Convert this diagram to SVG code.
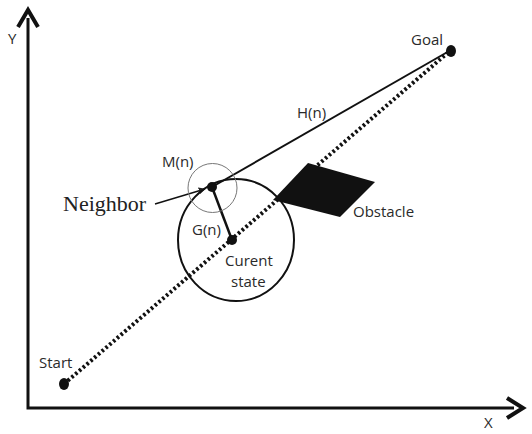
<svg xmlns="http://www.w3.org/2000/svg" width="532" height="434" viewBox="0 0 532 434">
<style>
.lbl{font-family:"Open Sans","Liberation Sans",sans-serif;font-size:15px;fill:#2a2a2a}
.ser{font-family:"Liberation Serif",serif;font-size:22px;fill:#222}
.ln{stroke:#111;fill:none}
</style>
<defs>
<marker id="ah" viewBox="0 0 10 10" refX="9" refY="5" markerWidth="7" markerHeight="7" orient="auto" markerUnits="userSpaceOnUse">
<path d="M0,0 L10,5 L0,10 z" fill="#222"/>
</marker>
</defs>
<rect width="532" height="434" fill="#fff"/>
<g id="connectors">
<polyline class="ln" points="28,18 28,408 514,408" stroke-width="3"/>
<polyline class="ln" points="18,27 28,10 38,27" stroke-width="4" stroke-linejoin="miter"/>
<polyline class="ln" points="507,398 523,408 507,418" stroke-width="4" stroke-linejoin="miter"/>
<line class="ln" x1="64" y1="384" x2="451" y2="50" stroke-width="4" stroke-dasharray="2.5 2.5"/>
<line class="ln" x1="212" y1="187" x2="451" y2="50" stroke-width="2"/>
<line class="ln" x1="212" y1="187" x2="232" y2="240" stroke-width="2.5"/>
<line class="ln" x1="155" y1="204" x2="205" y2="189" stroke-width="1.5" marker-end="url(#ah)"/>
</g>
<g id="big-circle"><ellipse class="ln" cx="236" cy="240" rx="58" ry="61" stroke-width="2"/></g>
<g id="small-circle"><circle cx="212.5" cy="188" r="24.5" fill="none" stroke="#777" stroke-width="1"/></g>
<g id="obstacle"><polygon points="308,163 375,182 340,217 273,200" fill="#111"/><text class="lbl" x="353" y="217">Obstacle</text></g>
<g id="goal"><ellipse cx="451" cy="51" rx="5" ry="6" fill="#111"/><text class="lbl" x="411" y="45">Goal</text></g>
<g id="start"><ellipse cx="64" cy="384" rx="5" ry="6" fill="#111"/><text class="lbl" x="39" y="368">Start</text></g>
<g id="neighbor"><circle cx="212" cy="187" r="5" fill="#111"/><text class="lbl" x="162" y="167">M(n)</text><text class="ser" x="63" y="211">Neighbor</text></g>
<g id="current"><circle cx="232" cy="240" r="5" fill="#111"/><text class="lbl" x="192" y="235">G(n)</text><text class="lbl" x="225" y="266">Curent</text><text class="lbl" x="231" y="287">state</text></g>
<g id="hn"><text class="lbl" x="297" y="118">H(n)</text></g>
<g id="axes-labels"><text class="lbl" x="8" y="44">Y</text><text class="lbl" x="484" y="428">X</text></g>
</svg>
